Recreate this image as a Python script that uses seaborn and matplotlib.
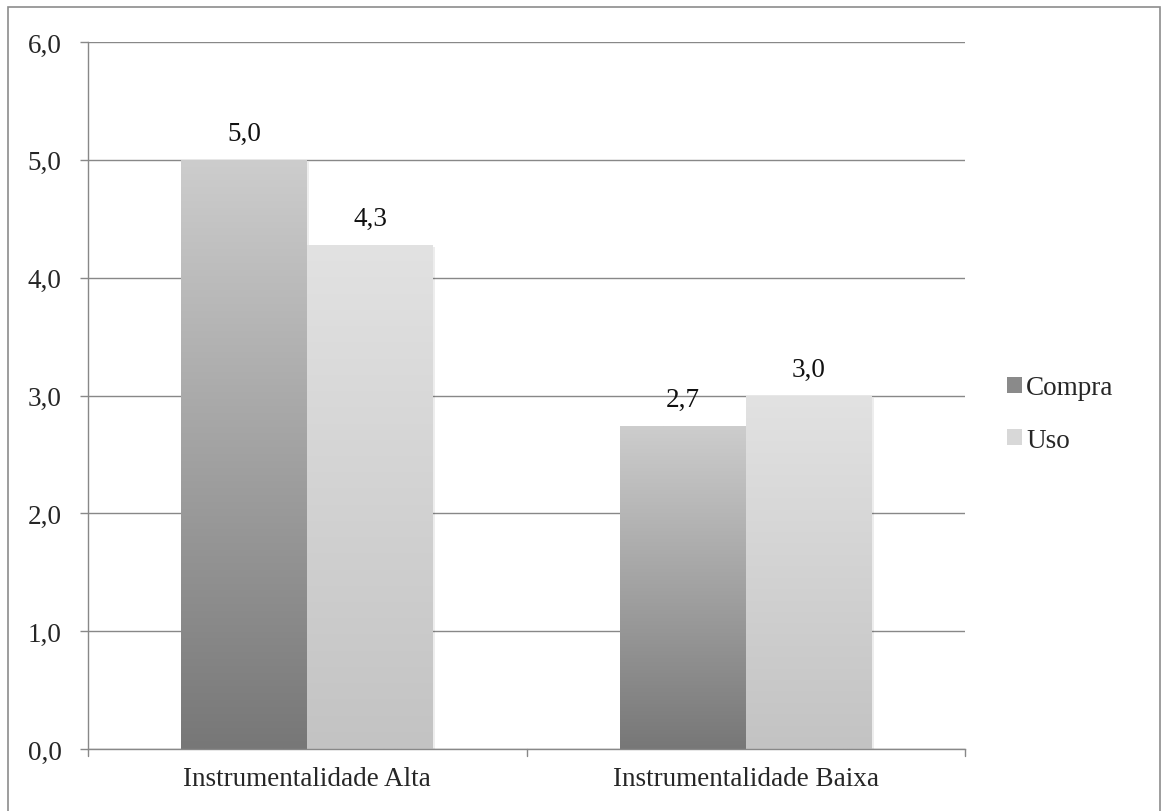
import numpy as np
import pandas as pd
import matplotlib
matplotlib.use("Agg")
import matplotlib.pyplot as plt
import seaborn as sns
from matplotlib.colors import LinearSegmentedColormap
from matplotlib.patches import Rectangle, Patch

categories = ["Instrumentalidade Alta", "Instrumentalidade Baixa"]
series = ["Compra", "Uso"]
compra = [5.0, 2.74]
uso = [4.28, 3.0]
yticks = [0, 1, 2, 3, 4, 5, 6]

df = pd.DataFrame({
    "cat": categories * 2,
    "serie": [series[0]] * 2 + [series[1]] * 2,
    "valor": compra + uso,
})

sns.set_theme(style="white")
plt.rcParams["font.family"] = ["Liberation Serif", "DejaVu Serif"]
FS = 19.5

fig = plt.figure(figsize=(11.67, 8.12), dpi=100)
ax = fig.add_axes([88/1167, 62/812, (965-88)/1167, (750-43)/812])

sns.barplot(data=df, x="cat", y="valor", hue="serie", order=categories,
            hue_order=series, palette=["#999999", "#d5d5d5"], width=0.574,
            errorbar=None, legend=False, ax=ax, linewidth=0)

grads = {
    "Compra": LinearSegmentedColormap.from_list("c", ["#777777", "#cdcdcd"]),
    "Uso": LinearSegmentedColormap.from_list("u", ["#c3c3c3", "#e2e2e2"]),
}
grad = np.linspace(0, 1, 256).reshape(-1, 1)
patches = list(ax.patches)
for i, p in enumerate(patches):
    s = series[i // len(categories)]
    x0, y0, w, h = p.get_x(), p.get_y(), p.get_width(), p.get_height()
    sh = Rectangle((x0 + 0.005, y0), w, h - 0.02, facecolor="#000000", alpha=0.07,
                   edgecolor="none", zorder=1.5)
    ax.add_patch(sh)
    im = ax.imshow(grad, extent=[x0, x0 + w, y0, y0 + h], origin="lower",
                   cmap=grads[s], aspect="auto", zorder=2)
    im.set_clip_path(p)
    p.set_alpha(0)
    v = y0 + h
    ax.annotate(f"{v:.1f}".replace(".", ","), (x0 + w / 2, v),
                xytext=(0, 10), textcoords="offset points", ha="center",
                va="bottom", fontsize=FS, color="#111111", zorder=3)

ax.set_xlim(-0.5, 1.5)
ax.set_ylim(0, 6)
ax.set_yticks(yticks)
ax.set_yticklabels([f"{t:.1f}".replace(".", ",") for t in yticks], fontsize=FS)
ax.set_xticks([0, 1])
ax.set_xticklabels(categories, fontsize=FS)
ax.tick_params(axis="x", length=0, pad=12)
ax.tick_params(axis="y", length=6, color="#888888", width=1, pad=13, left=True)
ax.set_xlabel("")
ax.set_ylabel("")
ax.yaxis.grid(True, color="#888888", linewidth=1)
ax.set_axisbelow(True)
for sp in ["top", "right"]:
    ax.spines[sp].set_visible(False)
for sp in ["left", "bottom"]:
    ax.spines[sp].set_color("#888888")
    ax.spines[sp].set_linewidth(1)
for xb in [-0.5, 0.5, 1.5]:
    ax.plot([xb, xb], [0, -0.06], color="#888888", lw=1, clip_on=False, zorder=3)

handles = [Patch(facecolor="#8a8a8a", edgecolor="none"),
           Patch(facecolor="#d8d8d8", edgecolor="none")]
fig.legend(handles, series, loc="center left", bbox_to_anchor=(983/1167, 1 - 415/812),
           frameon=False, fontsize=FS, handlelength=0.55, handleheight=0.55,
           handletextpad=0.15, labelspacing=1.0)

fig.patches.append(Rectangle((8/1167, -0.01), (1160-8)/1167, (812-8)/812 + 0.01,
                             transform=fig.transFigure, fill=False,
                             edgecolor="#8c8c8c", linewidth=1.2))

fig.savefig("out.png", dpi=100)
